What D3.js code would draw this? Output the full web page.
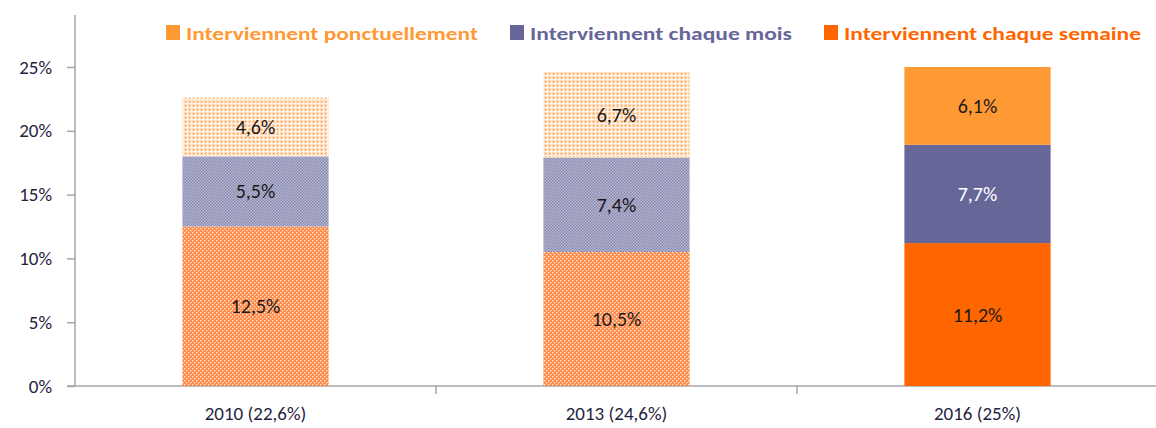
<!DOCTYPE html>
<html lang="fr">
<head>
  <meta charset="UTF-8">
  <title>intervenants</title>
  <script src="https://cdn.jsdelivr.net/npm/d3@7"></script>
  <style>
    * { margin: 0; padding: 0; }
    body { background: #fff; }
    #app { width: 1156px; height: 428px; }
    text { font-family: Carlito, "Liberation Sans Narrow", "Open Sans", sans-serif; }
  </style>
</head>
<body>
<div id="app"></div>
<script>
  // categories + series (en %)
  const years = ["2010 (22,6%)", "2013 (24,6%)", "2016 (25%)"];
  const bas = [12.5, 10.5, 11.2];
  const milieu = [5.5, 7.4, 7.7];
  const haut = [4.6, 6.7, 6.1];
  const yTicks = [0, 5, 10, 15, 20, 25];
  const legendLabels = ["Interviennent ponctuellement", "Interviennent chaque mois", "Interviennent chaque semaine"];
  const legendColors = ["#FF9933", "#666699", "#FF6600"];

  const W = 1156, H = 428;
  const svg = d3.select("#app").append("svg").attr("width", W).attr("height", H);

  // motifs pour 2010 et 2013
  const defs = svg.append("defs");
  const pBas = defs.append("pattern").attr("id", "p-bas").attr("patternUnits", "userSpaceOnUse").attr("width", 4).attr("height", 4);
  pBas.append("rect").attr("width", 4).attr("height", 4).attr("fill", "#FF8C4A");
  pBas.append("rect").attr("x", 0).attr("y", 0).attr("width", 1.4).attr("height", 1.4).attr("fill", "#FFE4D2");
  pBas.append("rect").attr("x", 2).attr("y", 2).attr("width", 1.4).attr("height", 1.4).attr("fill", "#FFE4D2");

  const pMil = defs.append("pattern").attr("id", "p-mil").attr("patternUnits", "userSpaceOnUse").attr("width", 3).attr("height", 3);
  pMil.append("rect").attr("width", 3).attr("height", 3).attr("fill", "#B8B8D2");
  pMil.append("rect").attr("width", 1.5).attr("height", 1.5).attr("fill", "#8A8AB0");
  pMil.append("rect").attr("x", 1.5).attr("y", 1.5).attr("width", 1.5).attr("height", 1.5).attr("fill", "#8A8AB0");

  const pHaut = defs.append("pattern").attr("id", "p-haut").attr("patternUnits", "userSpaceOnUse").attr("width", 4).attr("height", 4);
  pHaut.append("rect").attr("width", 4).attr("height", 4).attr("fill", "#FFF1E3");
  pHaut.append("rect").attr("x", 0.5).attr("y", 0.5).attr("width", 2.2).attr("height", 2.2).attr("fill", "#FFAE66");

  const x = d3.scaleBand().domain(years).range([75, 1158]).paddingInner(0.595).paddingOuter(0.2975);
  const y = d3.scaleLinear().domain([0, 25]).range([386, 67]);

  // axes
  svg.append("line").attr("x1", 75).attr("x2", 75).attr("y1", 15).attr("y2", y(0))
    .attr("stroke", "#A6A6A6").attr("stroke-width", 1.5);
  svg.append("line").attr("x1", 67).attr("x2", W).attr("y1", y(0)).attr("y2", y(0))
    .attr("stroke", "#A6A6A6").attr("stroke-width", 1.5);

  const axisY = d3.axisLeft(y).tickValues(yTicks).tickSize(8).tickPadding(15).tickFormat(d => d + "%");
  const gy = svg.append("g").attr("transform", "translate(75,0)").call(axisY);
  gy.select(".domain").remove();
  gy.selectAll(".tick line").attr("stroke", "#A6A6A6").attr("stroke-width", 1.5);
  gy.selectAll(".tick text").attr("font-size", 19).attr("fill", "#1F2340")
    .style("font-family", 'Carlito, "Liberation Sans Narrow", "Open Sans", sans-serif');

  // separateurs de categories
  const step = x.step();
  svg.selectAll("line.sep").data([1, 2]).enter().append("line").attr("class", "sep")
    .attr("x1", d => 75 + d * step).attr("x2", d => 75 + d * step)
    .attr("y1", y(0)).attr("y2", y(0) + 8)
    .attr("stroke", "#A6A6A6").attr("stroke-width", 1.5);

  svg.selectAll("text.xl").data(years).enter().append("text").attr("class", "xl")
    .attr("x", d => x(d) + x.bandwidth() / 2).attr("y", 420)
    .attr("text-anchor", "middle").attr("font-size", 19).attr("fill", "#1F2340")
    .text(d => d);

  // segments empiles
  const segs = [];
  years.forEach((yr, i) => {
    const plein = i === 2;
    const vals = [bas[i], milieu[i], haut[i]];
    const fills = plein ? ["#FF6600", "#666699", "#FF9933"] : ["url(#p-bas)", "url(#p-mil)", "url(#p-haut)"];
    const txt = plein ? ["#1a1a1a", "#ffffff", "#1a1a1a"] : ["#1a1a1a", "#1a1a1a", "#1a1a1a"];
    let acc = 0;
    vals.forEach((v, k) => {
      segs.push({ yr: yr, y0: acc, y1: acc + v, v: v, fill: fills[k], txt: txt[k] });
      acc += v;
    });
  });

  svg.selectAll("rect.seg").data(segs).enter().append("rect").attr("class", "seg")
    .attr("x", d => x(d.yr)).attr("width", x.bandwidth())
    .attr("y", d => y(d.y1)).attr("height", d => y(d.y0) - y(d.y1))
    .attr("fill", d => d.fill);

  svg.selectAll("text.val").data(segs).enter().append("text").attr("class", "val")
    .attr("x", d => x(d.yr) + x.bandwidth() / 2).attr("y", d => y((d.y0 + d.y1) / 2) + 7)
    .attr("text-anchor", "middle").attr("font-size", 20).attr("fill", d => d.txt)
    .text(d => d.v.toFixed(1).replace(".", ",") + "%");

  // legende
  const legX = [166, 510, 824];
  const legW = [292, 262, 297];
  const leg = svg.selectAll("g.leg").data(legendLabels).enter().append("g").attr("class", "leg");
  leg.append("rect").attr("x", (d, i) => legX[i]).attr("y", 25).attr("width", 14).attr("height", 15)
    .attr("fill", (d, i) => legendColors[i]);
  leg.append("text").attr("x", (d, i) => legX[i] + 20).attr("y", 40)
    .attr("font-size", 19).attr("font-weight", "bold").attr("fill", (d, i) => legendColors[i])
    .attr("textLength", (d, i) => legW[i]).attr("lengthAdjust", "spacingAndGlyphs")
    .text(d => d);
</script>
</body>
</html>
